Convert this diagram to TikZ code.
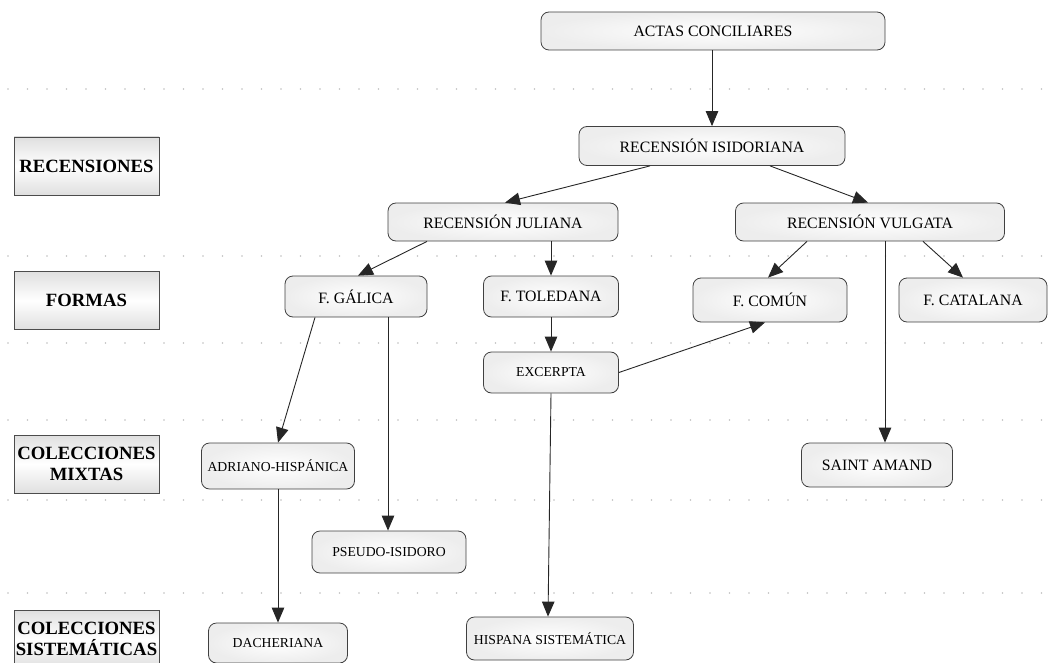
\documentclass[tikz,border=0pt]{standalone}
\usepackage{fontspec}
\setmainfont{Liberation Serif}
\usetikzlibrary{arrows.meta,calc}
\begin{document}
\begin{tikzpicture}[x=1pt,y=-1pt,
  box/.style={draw=black!75, line width=0.8pt, rounded corners=8pt, inner color=white, outer color=gray!14, align=center, inner sep=0pt, font=\fontsize{15.8}{18}\selectfont},
  smallbox/.style={box, font=\fontsize{13.7}{16}\selectfont},
  sz/.style 2 args={minimum width=#1, minimum height=#2},
  lab/.style={draw=black!70, line width=0.8pt, top color=gray!25, bottom color=gray!25, middle color=white, align=center, inner sep=0pt, font=\bfseries\fontsize{18.7}{21}\selectfont, minimum width=145, minimum height=58},
  arr/.style={-{Triangle[length=15pt,width=12.5pt]}, line width=0.9pt, draw=black!85},
  dotline/.style={draw=gray!50, line width=1.8pt, line cap=round, dash pattern=on 0pt off 19.5pt}
]
\useasboundingbox (0,0) rectangle (1048,663);
% dotted separators
\foreach \yy in {89,256,343,420,500,593} {
  \draw[dotline] (8,\yy) -- (1044,\yy);
}
% row labels
\node[lab] (lrec) at (86.5,166) {RECENSIONES};
\node[lab] (lfor) at (86.5,300.5) {FORMAS};
\node[lab] (lmix) at (86.5,464) {COLECCIONES\\MIXTAS};
\node[lab] (lsis) at (86.5,639) {COLECCIONES\\SISTEMÁTICAS};
% nodes
\node[box, sz={344}{38}] (actas) at (713,31) {ACTAS CONCILIARES};
\node[box, sz={266}{39}] (isid) at (712,146) {RECENSIÓN ISIDORIANA};
\node[box, sz={230}{38}] (jul) at (503,222) {RECENSIÓN JULIANA};
\node[box, sz={269}{38}] (vul) at (870,222) {RECENSIÓN VULGATA};
\node[box, sz={142}{41}] (gal) at (356,296.5) {F. GÁLICA};
\node[box, sz={135}{41}] (tol) at (551,296.5) {F. TOLEDANA};
\node[smallbox, sz={135}{41}] (exc) at (551,372.5) {EXCERPTA};
\node[box, sz={154}{44}] (com) at (770,300) {F. COMÚN};
\node[box, sz={148}{44}] (cat) at (973,300) {F. CATALANA};
\node[smallbox, sz={153}{46}] (adr) at (278,466) {ADRIANO-HISPÁNICA};
\node[smallbox, sz={154}{42}] (pse) at (389,552) {PSEUDO-ISIDORO};
\node[box, sz={151}{44}] (saint) at (877,465) {SAINT AMAND};
\node[smallbox, sz={139}{40}] (dac) at (278,643) {DACHERIANA};
\node[smallbox, sz={167}{43}] (his) at (550,638.5) {HISPANA SISTEMÁTICA};
% connectors
\draw[arr] ([xshift=-1]actas.south) -- (isid.north);
\draw[arr] ([xshift=-62]isid.south) -- ([xshift=2]jul.north);
\draw[arr] ([xshift=58]isid.south) -- ([xshift=-2]vul.north);
\draw[arr] ([xshift=-76]jul.south) -- ([xshift=2]gal.north);
\draw[arr] (jul.south -| tol.north) -- (tol.north);
\draw[arr] (tol.south) -- (exc.north);
\draw[arr] (exc.east) -- ([xshift=-5]com.south);
\draw[arr] ([xshift=-63]vul.south) -- ([xshift=-2]com.north);
\draw[arr] ([xshift=53]vul.south) -- ([xshift=-10]cat.north);
\draw[arr] ([xshift=15]vul.south) -- ([xshift=8]saint.north);
\draw[arr] ([xshift=-41]gal.south) -- (adr.north);
\draw[arr] ([xshift=32]gal.south) -- ([xshift=-1]pse.north);
\draw[arr] (adr.south) -- (dac.north);
\draw[arr] (exc.south) -- ([xshift=-2]his.north);
\end{tikzpicture}
\end{document}
